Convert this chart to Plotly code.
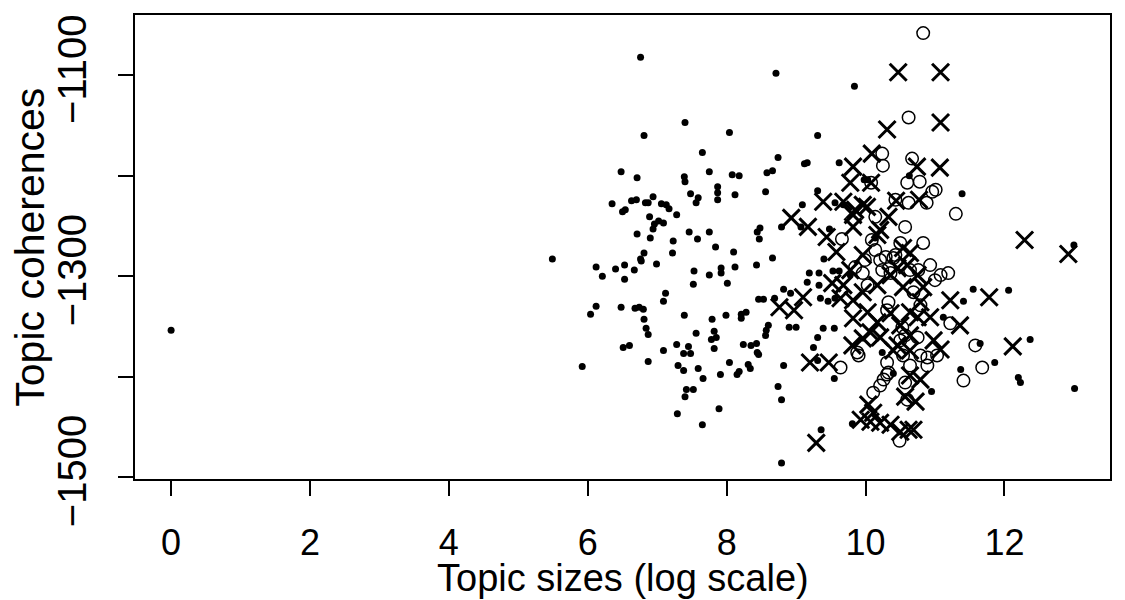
import plotly.graph_objects as go

# ---- data (log topic size, topic coherence) ----
dot_x = [0.00, 5.49, 5.92, 6.76, 7.40, 6.81, 8.04, 7.65, 6.48, 6.71, 7.39, 7.40, 7.75, 8.08, 8.18,
         7.48, 7.59, 7.56, 7.87, 7.87, 7.87, 8.12, 6.94, 6.35, 6.63, 6.70, 6.50, 6.54, 6.83, 6.87,
         7.06, 7.13, 7.17, 7.28, 6.89, 6.96, 7.02, 7.09, 6.94, 6.71, 6.90, 7.23, 7.46, 7.58, 7.75,
         7.84, 8.10, 6.81, 7.22, 6.76, 6.12, 6.21, 6.40, 6.53, 6.53, 6.67, 6.77, 6.99, 7.53, 7.52,
         7.75, 7.92, 7.92, 8.12, 8.01, 7.12, 7.09, 6.12, 6.04, 6.48, 6.68, 6.74, 6.80, 6.81, 6.84,
         6.87, 7.39, 7.79, 7.99, 7.56, 7.82, 7.85, 7.78, 7.82, 6.51, 6.60, 7.28, 7.45, 7.38, 7.48,
         7.09, 6.87, 7.30, 7.38, 7.59, 8.04, 7.66, 7.91, 8.15, 7.42, 7.52, 7.40, 7.29, 7.89, 7.65,
         8.71, 9.84, 9.31, 8.74, 9.12, 9.16, 9.62, 8.58, 8.66, 8.56, 9.31, 9.09, 9.56, 9.68, 9.98,
         8.79, 9.07, 8.48, 8.44, 8.47, 9.48, 8.66, 8.43, 9.19, 9.33, 9.16, 9.40, 9.53, 9.62, 9.33,
         8.82, 8.92, 8.46, 8.53, 8.69, 9.35, 9.46, 8.21, 8.28, 8.21, 8.90, 9.00, 8.60, 8.57, 8.56,
         9.39, 9.55, 9.31, 9.25, 8.24, 8.35, 8.43, 8.44, 8.46, 8.82, 8.31, 8.34, 8.18, 9.31, 9.55,
         8.74, 8.79, 9.81, 9.36, 8.79, 10.63, 10.03, 11.39, 11.55, 11.41, 11.12, 10.24, 10.40, 11.37, 10.95,
         13.00, 12.06, 12.37, 11.65, 11.86, 12.20, 12.23, 13.01, 9.56, 9.78, 10.14]
dot_y = [-1354, -1283, -1390, -1082, -1147, -1160, -1157, -1177, -1196, -1202, -1201, -1206, -1196, -1199, -1200,
         -1218, -1222, -1227, -1211, -1217, -1224, -1219, -1221, -1228, -1225, -1224, -1236, -1234, -1227, -1227,
         -1228, -1229, -1233, -1239, -1241, -1248, -1245, -1247, -1253, -1258, -1262, -1265, -1256, -1263, -1256,
         -1271, -1276, -1277, -1277, -1283, -1291, -1300, -1293, -1289, -1303, -1294, -1285, -1288, -1295, -1308,
         -1299, -1292, -1297, -1291, -1307, -1317, -1325, -1330, -1338, -1331, -1332, -1331, -1333, -1343, -1352,
         -1358, -1339, -1343, -1339, -1357, -1355, -1361, -1363, -1372, -1371, -1369, -1368, -1370, -1377, -1377,
         -1374, -1385, -1389, -1394, -1392, -1386, -1402, -1398, -1398, -1413, -1413, -1420, -1437, -1432, -1448,
         -1098, -1111, -1160, -1182, -1188, -1187, -1187, -1197, -1195, -1216, -1215, -1229, -1227, -1229, -1204,
         -1251, -1251, -1252, -1256, -1263, -1253, -1282, -1289, -1297, -1297, -1306, -1283, -1295, -1295, -1309,
         -1313, -1317, -1323, -1323, -1322, -1322, -1325, -1338, -1336, -1342, -1351, -1351, -1349, -1354, -1359,
         -1352, -1352, -1361, -1371, -1368, -1369, -1367, -1376, -1378, -1389, -1388, -1392, -1395, -1384, -1402,
         -1410, -1423, -1447, -1453, -1486, -1200, -1204, -1218, -1313, -1325, -1341, -1376, -1397, -1393, -1415,
         -1269, -1314, -1363, -1367, -1386, -1401, -1406, -1412, -1322, -1299, -1262]

circle_x = [10.83, 10.62, 10.24, 10.25, 10.67, 10.08, 10.60, 10.78, 10.96, 11.01, 11.30, 10.43, 10.62, 10.88,
            10.14, 10.57, 10.09, 10.83, 10.50, 10.14, 10.29, 10.43, 9.66, 9.99, 10.21, 10.40, 9.85, 9.96,
            10.24, 10.64, 10.03, 10.33, 10.31, 10.69, 10.79, 10.53, 10.50, 10.75, 10.79, 9.88, 9.90, 9.64,
            10.31, 10.89, 10.54, 10.11, 10.21, 10.26, 10.31, 10.57, 10.60, 10.49, 11.58, 11.68, 11.41, 10.50,
            10.36, 10.76, 10.93, 11.08, 11.19, 11.00, 10.33, 10.89, 11.03, 10.57, 10.64, 11.22]
circle_y = [-1058, -1142, -1178, -1190, -1183, -1207, -1207, -1206, -1216, -1214, -1238, -1224, -1227, -1227,
            -1241, -1251, -1264, -1267, -1267, -1274, -1281, -1279, -1263, -1284, -1284, -1282, -1291, -1297,
            -1294, -1294, -1309, -1326, -1334, -1316, -1329, -1351, -1364, -1361, -1379, -1376, -1379, -1391,
            -1386, -1389, -1379, -1416, -1409, -1403, -1398, -1406, -1423, -1464, -1369, -1391, -1404, -1289,
            -1297, -1294, -1289, -1299, -1297, -1304, -1396, -1381, -1379, -1359, -1389, -1347]

cross_x = [10.47, 11.08, 11.08, 10.31, 10.09, 10.74, 11.07, 9.82, 9.78, 10.08, 10.44, 10.77, 10.02, 10.33,
           10.21, 10.17, 10.54, 10.64, 9.39, 9.68, 9.85, 9.96, 9.82, 9.82, 9.44, 9.58, 9.96, 8.93, 9.17,
           9.78, 9.52, 9.68, 9.64, 9.82, 9.96, 10.17, 10.36, 10.46, 10.60, 10.75, 10.54, 10.79, 10.64, 10.75,
           9.82, 10.03, 10.17, 10.36, 10.50, 10.07, 10.21, 9.81, 9.47, 10.46, 10.64, 9.96, 9.10, 8.76, 8.97,
           9.20, 9.29, 9.93, 10.07, 10.21, 10.36, 10.50, 10.62, 10.69, 10.04, 10.57, 10.72, 10.64, 10.79, 10.11,
           12.29, 12.92, 11.78, 12.12, 10.83, 11.22, 11.36, 10.93, 10.98, 11.08, 10.64, 10.40]
cross_y = [-1097, -1097, -1147, -1154, -1178, -1191, -1192, -1191, -1207, -1207, -1225, -1224, -1231, -1241,
           -1254, -1259, -1272, -1277, -1226, -1226, -1234, -1229, -1239, -1251, -1261, -1276, -1279, -1242, -1251,
           -1294, -1307, -1309, -1322, -1324, -1316, -1309, -1299, -1292, -1289, -1299, -1311, -1326, -1336, -1341,
           -1342, -1336, -1346, -1337, -1349, -1356, -1361, -1369, -1386, -1369, -1359, -1362, -1321, -1331, -1334,
           -1386, -1466, -1443, -1445, -1446, -1448, -1455, -1453, -1453, -1428, -1420, -1425, -1399, -1403, -1436,
           -1264, -1278, -1321, -1370, -1311, -1324, -1349, -1341, -1364, -1373, -1374, -1374]

x_ticks = [0, 2, 4, 6, 8, 10, 12]
y_ticks = [-1100, -1200, -1300, -1400, -1500]
y_tick_text = ["\u22121100", "", "\u22121300", "", "\u22121500"]
x_title = "Topic sizes (log scale)"
y_title = "Topic coherences"

FONT = "Liberation Sans, Arial, Helvetica, sans-serif"

fig = go.Figure()
fig.add_trace(go.Scatter(x=dot_x, y=dot_y, mode="markers",
                         marker=dict(symbol="circle", size=7, color="black", line=dict(width=0))))
fig.add_trace(go.Scatter(x=circle_x, y=circle_y, mode="markers",
                         marker=dict(symbol="circle-open", size=12.5, color="black", line=dict(width=1.5))))
fig.add_trace(go.Scatter(x=cross_x, y=cross_y, mode="markers",
                         marker=dict(symbol="x-thin-open", size=17, color="black", line=dict(width=3))))

fig.update_layout(
    width=1125, height=600,
    margin=dict(l=135, r=15, t=15, b=121),
    plot_bgcolor="white", paper_bgcolor="white",
    showlegend=False,
    font=dict(family=FONT, color="black"),
    annotations=[
        dict(text=x_title, xref="paper", yref="paper", x=0.5, y=-0.213,
             xanchor="center", yanchor="middle", showarrow=False,
             font=dict(size=38, family=FONT, color="black")),
        dict(text=y_title, xref="paper", yref="paper", x=-0.108, y=0.5,
             xanchor="center", yanchor="middle", showarrow=False, textangle=-90,
             font=dict(size=41, family=FONT, color="black")),
    ],
)
fig.update_xaxes(
    range=[-0.52, 13.52], tickvals=x_ticks, ticktext=[str(v) for v in x_ticks],
    ticks="outside", ticklen=15, tickwidth=1.5, tickcolor="black",
    showline=True, linewidth=1.5, linecolor="black", mirror=True,
    showgrid=False, zeroline=False, automargin=False,
    tickfont=dict(size=36, family=FONT), ticklabelstandoff=16,
)
fig.update_yaxes(
    range=[-1502, -1040], tickvals=y_ticks, ticktext=y_tick_text,
    ticks="outside", ticklen=15, tickwidth=1.5, tickcolor="black",
    showline=True, linewidth=1.5, linecolor="black", mirror=True,
    showgrid=False, zeroline=False, automargin=False,
    tickangle=-90, tickfont=dict(size=40, family=FONT), ticklabelstandoff=16,
)

fig.write_html("out.html")
